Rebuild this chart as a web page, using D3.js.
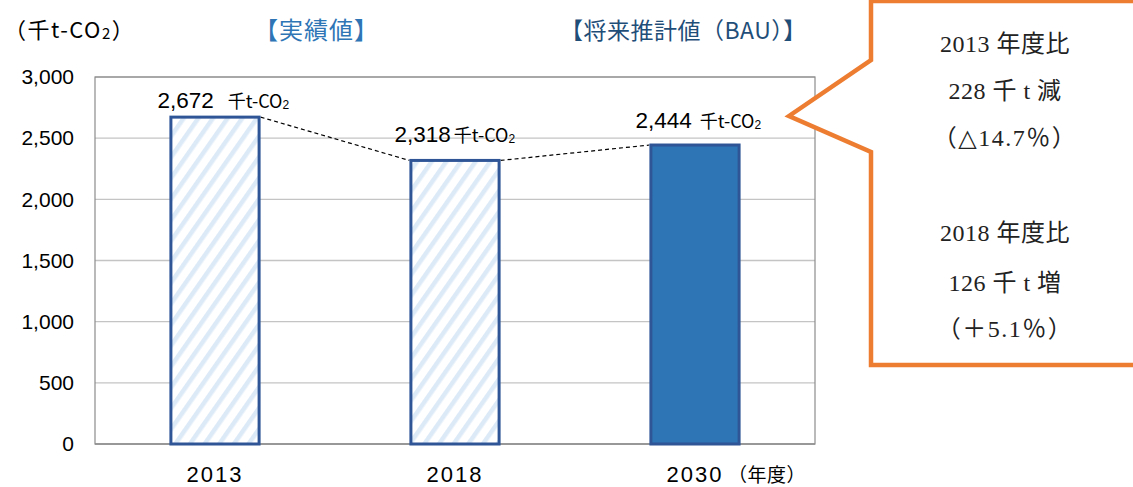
<!DOCTYPE html>
<html>
<head>
<meta charset="utf-8">
<script src="https://cdn.jsdelivr.net/npm/d3@7"></script>
<style>
  html, body { margin: 0; padding: 0; background: #fff; }
  svg { display: block; }
  .sans { font-family: "Liberation Sans", Arial, "Noto Sans CJK JP", sans-serif; }
  .cjk { font-family: "Noto Sans CJK JP", "Liberation Sans", sans-serif; }
  .serif { font-family: "Liberation Serif", "DejaVu Serif", "Noto Sans CJK JP", serif; }
</style>
</head>
<body>
<svg id="chart" width="1133" height="487"></svg>
<script>
// Emissions by fiscal year (thousand t-CO2)
const years = ["2013", "2018", "2030"];
const emissions = [2672, 2318, 2444];
const kinds = ["actual", "actual", "projected"];
const yTicks = [0, 500, 1000, 1500, 2000, 2500, 3000];
const unitLabel = "千t-CO";
const calloutLines = ["2013 年度比", "228 千 t 減", "（△14.7％）", "", "2018 年度比", "126 千 t 増", "（＋5.1％）"];

const svg = d3.select("#chart");
const margin = { left: 95, right: 318, top: 77, bottom: 43 };
const W = 1133, H = 487;

const x = d3.scaleBand()
  .domain(years)
  .range([margin.left, W - margin.right])
  .paddingInner(0.62)
  .paddingOuter(0.31);

const y = d3.scaleLinear()
  .domain([0, 3000])
  .range([H - margin.bottom, margin.top]);

// Hatch pattern for measured years
const defs = svg.append("defs");
const pat = defs.append("pattern")
  .attr("id", "hatch")
  .attr("patternUnits", "userSpaceOnUse")
  .attr("width", 12).attr("height", 12)
  .attr("patternTransform", "rotate(35)");
pat.append("rect").attr("width", 12).attr("height", 12).attr("fill", "#fff");
pat.append("rect").attr("x", 0).attr("width", 4.5).attr("height", 12).attr("fill", "#dce9f7");

// Gridlines
svg.append("g")
  .selectAll("line")
  .data(yTicks.filter(d => d > 0))
  .join("line")
  .attr("x1", margin.left).attr("x2", W - margin.right)
  .attr("y1", d => y(d)).attr("y2", d => y(d))
  .attr("stroke", "#c4c4c4").attr("stroke-width", 1.3);

// Plot frame
svg.append("rect")
  .attr("x", margin.left).attr("y", y(3000))
  .attr("width", W - margin.right - margin.left)
  .attr("height", y(0) - y(3000))
  .attr("fill", "none").attr("stroke", "#8c8c8c").attr("stroke-width", 1.2);
svg.append("line")
  .attr("x1", margin.left).attr("x2", W - margin.right)
  .attr("y1", y(0)).attr("y2", y(0))
  .attr("stroke", "#8c8c8c").attr("stroke-width", 1.5);

// Y axis labels
const yAxis = d3.axisLeft(y).tickValues(yTicks).tickSize(0).tickPadding(21)
  .tickFormat(d3.format(","));
svg.append("g")
  .attr("transform", `translate(${margin.left},0)`)
  .call(yAxis)
  .call(g => g.select(".domain").remove())
  .call(g => g.selectAll("text")
    .attr("class", "sans")
    .attr("font-size", 21)
    .attr("fill", "#000"));

// X axis labels
const xAxis = d3.axisBottom(x).tickSize(0).tickPadding(22);
svg.append("g")
  .attr("transform", `translate(0,${y(0)})`)
  .call(xAxis)
  .call(g => g.select(".domain").remove())
  .call(g => g.selectAll("text")
    .attr("class", "sans")
    .attr("font-size", 22)
    .attr("letter-spacing", 2)
    .attr("fill", "#000"));
svg.append("text")
  .attr("class", "cjk")
  .attr("x", x("2030") + x.bandwidth() / 2 + 33)
  .attr("y", 482)
  .attr("font-size", 19)
  .attr("letter-spacing", 0.5)
  .text("（年度）");

// Dashed connectors between bar tops
const conn = [];
for (let i = 0; i < years.length - 1; i++) {
  conn.push({
    x1: x(years[i]) + x.bandwidth(), y1: y(emissions[i]),
    x2: x(years[i + 1]), y2: y(emissions[i + 1])
  });
}
svg.append("g").selectAll("line").data(conn).join("line")
  .attr("x1", d => d.x1).attr("y1", d => d.y1)
  .attr("x2", d => d.x2).attr("y2", d => d.y2)
  .attr("stroke", "#000").attr("stroke-width", 1.2)
  .attr("stroke-dasharray", "4,3");

// Bars
svg.append("g").selectAll("rect")
  .data(years.map((yr, i) => ({ yr, v: emissions[i], kind: kinds[i] })))
  .join("rect")
  .attr("x", d => x(d.yr) + 1.5)
  .attr("y", d => y(d.v))
  .attr("width", x.bandwidth() - 3)
  .attr("height", d => y(0) - y(d.v))
  .attr("fill", d => d.kind === "actual" ? "url(#hatch)" : "#2e75b6")
  .attr("stroke", "#2f5597")
  .attr("stroke-width", 3);

// Value labels
const labelPos = [
  { dx: -12, dy: -9, gap: 14 },
  { dx: -15, dy: -18, gap: 3 },
  { dx: -14, dy: -17, gap: 8 }
];
years.forEach((yr, i) => {
  const t = svg.append("text")
    .attr("class", "sans")
    .attr("x", x(yr) + labelPos[i].dx)
    .attr("y", y(emissions[i]) + labelPos[i].dy)
    .attr("fill", "#000");
  t.append("tspan").attr("font-size", 22.5).text(d3.format(",")(emissions[i]));
  t.append("tspan").attr("dx", labelPos[i].gap).attr("font-size", 18).attr("class", "cjk").text(unitLabel);
  t.append("tspan").attr("font-size", 12).attr("dy", 1).text("2");
});

// Header texts
const h1 = svg.append("text").attr("class", "cjk").attr("x", 4).attr("y", 38)
  .attr("font-size", 22).attr("letter-spacing", 1.5);
h1.append("tspan").text("（千t-CO");
h1.append("tspan").attr("font-size", 15).attr("dy", 1).text("2");
h1.append("tspan").attr("dy", -1).text("）");

svg.append("text").attr("class", "cjk")
  .attr("x", 254).attr("y", 39).attr("font-size", 24).attr("letter-spacing", 1)
  .attr("fill", "#2e75b6").text("【実績値】");
svg.append("text").attr("class", "cjk")
  .attr("x", 560).attr("y", 39).attr("font-size", 23).attr("letter-spacing", 0.5)
  .attr("fill", "#1f4e79").text("【将来推計値（BAU）】");

// Callout box with pointer
const cx0 = 871, cy0 = 1, cx1 = 1140, cy1 = 365;
const pts = [
  [cx0, cy0], [cx1, cy0], [cx1, cy1], [cx0, cy1],
  [cx0, 152], [789, 116], [cx0, 60]
];
svg.append("path")
  .attr("d", d3.line()(pts) + "Z")
  .attr("fill", "#fff")
  .attr("stroke", "#ed7d31")
  .attr("stroke-width", 4.5)
  .attr("stroke-linejoin", "miter");

const lineY = [52, 99, 146, 0, 241, 291, 337];
svg.append("g").selectAll("text")
  .data(calloutLines.map((s, i) => ({ s, y: lineY[i] })).filter(d => d.s))
  .join("text")
  .attr("class", "serif")
  .attr("x", 1005)
  .attr("y", d => d.y)
  .attr("text-anchor", "middle")
  .attr("font-size", 24)
  .attr("letter-spacing", d => d.s.startsWith("（") ? 1.5 : 0.5)
  .attr("fill", "#222")
  .text(d => d.s);
</script>
</body>
</html>
